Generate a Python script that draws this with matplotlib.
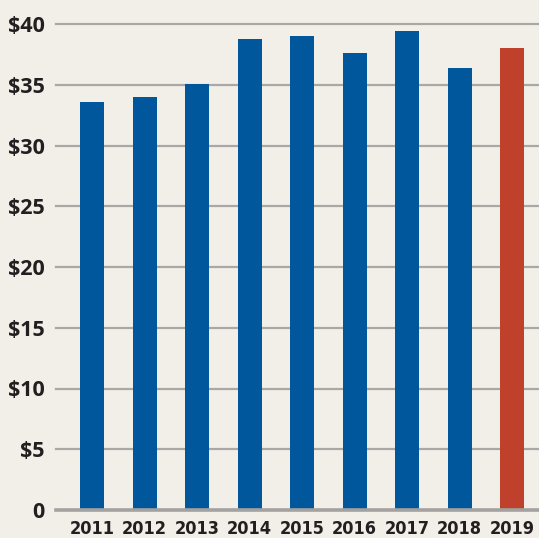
import matplotlib
matplotlib.use("Agg")
import matplotlib.pyplot as plt

years = ["2011", "2012", "2013", "2014", "2015", "2016", "2017", "2018", "2019"]
values = [33.6, 34.0, 35.1, 38.8, 39.0, 37.6, 39.4, 36.4, 38.0]
bar_colors = ["#00579b"] * 8 + ["#c0412b"]
yticks = [0, 5, 10, 15, 20, 25, 30, 35, 40]
ytick_labels = ["0", "$5", "$10", "$15", "$20", "$25", "$30", "$35", "$40"]

bg = "#f2efe8"
txt = "#231f20"
W, H = 539, 538
fig = plt.figure(figsize=(W / 100, H / 100), dpi=100, facecolor=bg)
ax = fig.add_axes([56 / W, 28 / H, (W - 56) / W, 486 / H])
ax.set_facecolor(bg)

x = list(range(len(years)))
ax.bar(x, values, width=0.457, color=bar_colors, zorder=3)

ax.set_ylim(0, 40)
ax.set_xlim(-0.686, 8.514)
ax.set_yticks(yticks)
ax.set_yticklabels(ytick_labels, fontsize=15.5, fontweight="bold", color=txt,
                   family=["Open Sans", "DejaVu Sans"])
ax.set_xticks(x)
ax.set_xticklabels(years, fontsize=13, fontweight="bold", color=txt,
                   family=["DejaVu Sans"], fontstretch="condensed")
ax.tick_params(axis="y", length=0, pad=8)
ax.tick_params(axis="x", length=0, pad=7)

for v in yticks[1:]:
    ax.axhline(v, color="#a9a8a6", linewidth=1.6, zorder=1, clip_on=False)
ax.axhline(0, color="#a3a2a0", linewidth=2.6, zorder=4, clip_on=False)

for s in ax.spines.values():
    s.set_visible(False)

fig.savefig("out.png", dpi=100, facecolor=bg)
